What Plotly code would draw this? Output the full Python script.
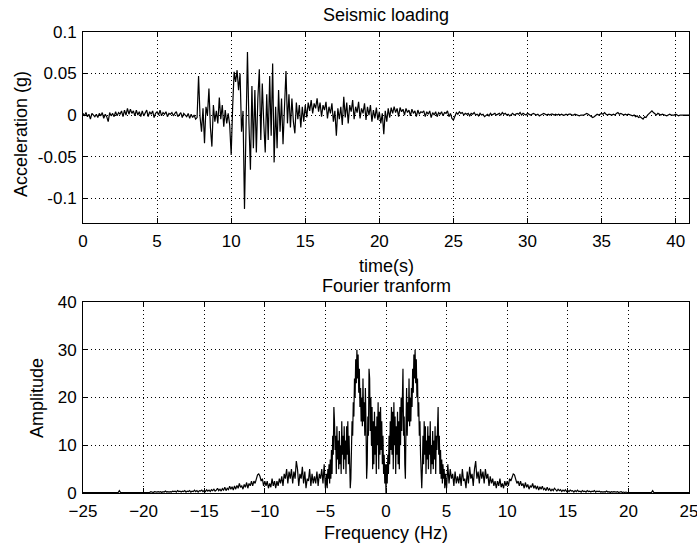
import numpy as np
import plotly.graph_objects as go

# ---------------- data ----------------
# Seismic acceleration (milli-g), sampled every 0.1 s from t = 0
accel_mg = [
    2, -1, 3, -2, 1, -5, 2, 0, -2, 1,
    -3, 2, -1, 3, -4, 1, -2, -8, 3, -1,
    2, -2, 4, -1, 3, 1, 5, -2, 6, 0,
    8, 1, 7, 2, 5, -1, 6, 0, 4, -2,
    5, -1, 3, 6, -2, 4, 1, 5, -3, 2,
    4, 0, 6, -1, 3, 1, 4, -2, 2, 1,
    3, -1, 2, 4, -2, 1, 3, -3, 2, 0,
    -2, 2, -4, 1, -3, 0, -5, -3, 47, -2,
    -20, 8, -34, 10, 0, 32, -15, -38, 12, -8,
    5, -10, 21, -5, 12, -14, 6, -10, 2, -12,
    -48, 10, 52, 40, 54, 30, 50, -20, 5, -113,
    -30, 76, -10, -66, 35, -40, 30, -45, 20, 55,
    -30, 38, -10, -45, 25, -30, 47, -25, 62, -57,
    10, -40, 30, -20, 20, -35, 10, 53, -10, 25,
    -15, 20, -8, -22, 15, -5, 12, -15, 10, -8,
    12, -3, 15, 5, 18, 2, 14, 8, 20, 4,
    15, -2, 12, 6, 16, -4, 10, 2, 14, -8,
    5, -25, 8, -5, 10, -12, 22, -3, 15, -10,
    12, 4, 18, -5, 10, 3, 16, -4, 8, 2,
    14, -6, 10, 0, 12, -8, 6, -4, 9, -6,
    4, -10, 2, -23, 5, -8, 8, -3, 9, 2,
    10, 3, 8, -2, 9, 4, 7, 0, 8, 3,
    6, -1, 7, 2, 5, -2, 6, 1, 4, 3,
    5, -2, 4, 1, 5, -3, 3, 0, 4, -2,
    3, 1, 4, -1, 3, 2, 5, -2, 2, -4,
    -6, 0, 3, 1, 4, 2, 3, 0, 2, 1,
    2, -1, 2, 1, 3, 0, 1, -1, 2, 0,
    1, -2, 0, 1, -1, 2, 0, 1, 2, 0,
    1, 2, 0, 3, 1, 2, 0, 1, -1, 1,
    2, 0, 1, 2, 1, 3, 0, 2, 1, 0,
    2, 1, 0, 1, 2, 1, 0, 1, -1, 0,
    1, 2, 1, 0, 1, 0, 1, 1, 0, 1,
    0, 1, 0, 1, 0, 0, 1, 0, 1, 1,
    0, 0, 1, 0, 0, -1, 0, 0, 0, 1,
    2, 1, 0, -2, -3, -2, 0, 1, 0, 1,
    2, 1, 3, 1, 0, 1, 0, 0, 1, 0,
    2, 3, 1, 2, 1, 0, 1, 0, 1, 0,
    0, -1, 0, -2, -1, -3, -2, -4, -5, -2,
    -3, 0, 2, 4, 5, 3, 1, 0, 2, 1,
    0, 1, 0, 0, -1, 0, 1, 0, 0, 0,
    1, 0, -1, 0, 0, 0, 0, 0, 0, 0,
]
time_step_s = 0.1

# Fourier amplitude (spectrum is symmetric about 0 Hz)
# 0 .. 4.95 Hz, every 0.05 Hz
amp_low = [
    0, 6, 2, 8, 4, 12, 6, 15, 9, 18,
    8, 17, 5, 19, 10, 16, 4, 14, 8, 17,
    6, 15, 5, 18, 10, 20, 13, 24, 26, 12,
    16, 6, 3, 14, 22, 12, 19, 15, 24, 14,
    20, 15, 22, 18, 26, 21, 29, 24, 30, 23,
    28, 20, 24, 16, 19, 12, 15, 8, 3, 1,
    5, 12, 6, 15, 8, 14, 4, 11, 7, 14,
    5, 12, 8, 15, 4, 10, 6, 13, 5, 11,
    7, 14, 4, 12, 9, 15, 18, 8, 12, 4,
    9, 3, 7, 2, 6, 3, 5, 1, 4, 2,
]
low_step_hz = 0.05
# 5.0 .. 25.0 Hz, every 0.1 Hz
amp_high = [
    1, 6, 2, 5, 3, 4, 1.5, 4.5, 2, 3.5,
    2, 4, 1.5, 5, 2.5, 3, 1, 4.5, 2, 5.5,
    3, 4, 1.5, 5, 6.7, 3, 4.5, 2, 5, 3,
    4.5, 2, 5, 3, 4, 1.5, 3.5, 2, 3, 1.5,
    2.5, 1, 2.5, 1.5, 3, 1.2, 2, 1, 2.5, 1.5,
    2.5, 1.5, 3, 2.5, 3.5, 4, 3.8, 3, 2, 2.5,
    1.5, 2.5, 1.5, 2, 1, 2.2, 1.2, 1.8, 0.8, 1.5,
    1.2, 2, 1, 1.6, 0.8, 1.5, 0.6, 1.3, 0.8, 1.4,
    0.7, 1, 0.5, 1.2, 0.6, 0.9, 0.4, 0.8, 0.5, 1,
    0.6, 0.4, 0.8, 0.5, 0.7, 0.3, 0.6, 0.4, 0.7, 0.3,
    0.5, 0.3, 0.6, 0.4, 0.5, 0.2, 0.5, 0.3, 0.6, 0.3,
    0.4, 0.2, 0.5, 0.3, 0.4, 0.2, 0.5, 0.3, 0.4, 0.2,
    0.4, 0.3, 0.5, 0.2, 0.4, 0.3, 0.4, 0.2, 0.3, 0.2,
    0.3, 0.2, 0.4, 0.2, 0.3, 0.1, 0.3, 0.2, 0.3, 0.2,
    0.2, 0.3, 0.1, 0.2, 0.3, 0.1, 0.2, 0.1, 0.2, 0.1,
    0.1, 0.2, 0.1, 0.15, 0.1, 0.2, 0.1, 0.1, 0.15, 0.1,
    0.1, 0.15, 0.1, 0.1, 0.1, 0.15, 0.1, 0.1, 0.1, 0.1,
    0.5, 0.1, 0.1, 0.1, 0.1, 0.1, 0.1, 0.1, 0.1, 0.1,
    0.1, 0.1, 0.1, 0.1, 0.1, 0.1, 0.1, 0.1, 0.1, 0.1,
    0.1, 0.1, 0.1, 0.1, 0.1, 0.1, 0.1, 0.1, 0.1, 0.1,
    0.1,
]
high_start_hz = 5.0
high_step_hz = 0.1

time_ticks = [0, 5, 10, 15, 20, 25, 30, 35, 40]
accel_ticks = [-0.1, -0.05, 0, 0.05, 0.1]
accel_tick_text = ["-0.1", "-0.05", "0", "0.05", "0.1"]
freq_ticks = [-25, -20, -15, -10, -5, 0, 5, 10, 15, 20, 25]
amp_ticks = [0, 10, 20, 30, 40]

# ---------------- derived arrays ----------------
accel = np.array(accel_mg, dtype=float) / 1000.0
t = np.arange(len(accel)) * time_step_s

f_pos = np.concatenate([np.arange(len(amp_low)) * low_step_hz,
                        high_start_hz + np.arange(len(amp_high)) * high_step_hz])
a_pos = np.array(amp_low + amp_high, dtype=float)
freq = np.concatenate([-f_pos[::-1], f_pos[1:]])
amp = np.concatenate([a_pos[::-1], a_pos[1:]])

FONT = "Arial, 'Liberation Sans', Helvetica, sans-serif"
TICK_SIZE = 17
LABEL_SIZE = 18

fig = go.Figure()
fig.add_trace(go.Scatter(x=t, y=accel, mode="lines",
                         line=dict(color="black", width=1.2),
                         xaxis="x", yaxis="y", showlegend=False,
                         cliponaxis=True))
fig.add_trace(go.Scatter(x=freq, y=amp, mode="lines",
                         line=dict(color="black", width=1.2),
                         xaxis="x2", yaxis="y2", showlegend=False,
                         cliponaxis=True))


def ax(**kw):
    d = dict(showline=True, linecolor="black", linewidth=1, mirror="ticks",
             ticks="inside", ticklen=5, tickcolor="black", tickwidth=1,
             showgrid=True, gridcolor="black", griddash="1px,3px", gridwidth=1,
             zeroline=False, automargin=False, fixedrange=True,
             ticklabeloverflow="allow",
             tickfont=dict(family=FONT, size=TICK_SIZE, color="black"))
    d.update(kw)
    return d


W, H = 697, 546
L, R = 83, 689
T1, B1 = 32, 223
T2, B2 = 302, 493

fig.update_layout(
    template="none",
    width=W, height=H,
    margin=dict(l=0, r=0, t=0, b=0, autoexpand=False),
    paper_bgcolor="white", plot_bgcolor="white",
    font=dict(family=FONT, size=LABEL_SIZE, color="black"),
    xaxis=ax(domain=[L / W, R / W], range=[0, 40.9], tickvals=time_ticks,
             anchor="y", ticklabelstandoff=3),
    yaxis=ax(domain=[1 - B1 / H, 1 - T1 / H], range=[-0.13, 0.1],
             tickvals=accel_ticks, ticktext=accel_tick_text, anchor="x",
             ticklabelstandoff=2),
    xaxis2=ax(domain=[L / W, R / W], range=[-25, 25.0001], tickvals=freq_ticks,
              anchor="y2", ticklabelstandoff=3),
    yaxis2=ax(domain=[1 - B2 / H, 1 - T2 / H], range=[0, 40.0001],
              tickvals=amp_ticks, anchor="x2", ticklabelstandoff=2),
)

cx = (L + R) / 2 / W
ann = [
    ("Seismic loading", cx, 15, 0),
    ("time(s)", cx, 266, 0),
    ("Fourier tranform", cx, 286, 0),
    ("Frequency (Hz)", cx, 533, 0),
    ("Acceleration (g)", 21 / W, 134, -90),
    ("Amplitude", 37 / W, 398, -90),
]
for text, x, ypx, ang in ann:
    fig.add_annotation(text=text, x=x, y=1 - ypx / H, xref="paper", yref="paper",
                       xanchor="center", yanchor="middle", showarrow=False,
                       textangle=ang,
                       font=dict(family=FONT, size=LABEL_SIZE, color="black"))

fig.write_html("out.html")
